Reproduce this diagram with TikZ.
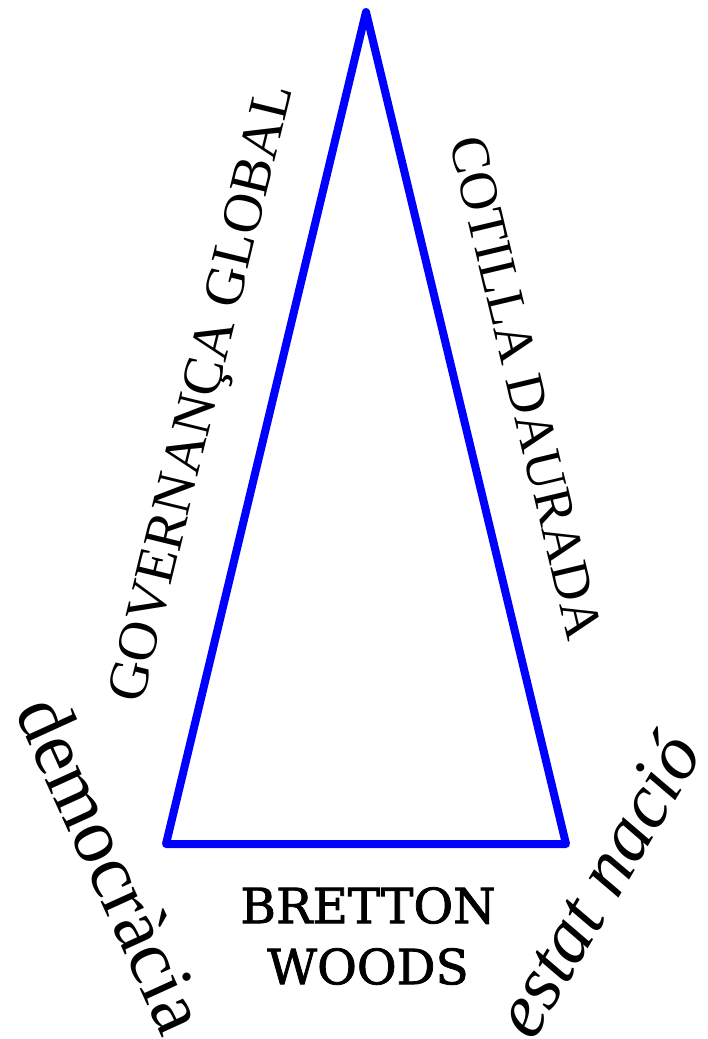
\documentclass[tikz,border=0pt]{standalone}
\usepackage{fontspec}
\setmainfont{Liberation Serif}
\newfontfamily\dvs[FakeBold=1.6]{DejaVu Serif}
\begin{document}
\begin{tikzpicture}[x=1pt,y=-1pt,
  edge/.style={draw=blue, line width=8pt, line join=round, line cap=round},
  lbl/.style={inner sep=0pt, anchor=center}]
\useasboundingbox (0,0) rectangle (707,1039);
\coordinate (top) at (366,12);
\coordinate (bl) at (166,844);
\coordinate (br) at (566,844);
\draw[edge] (top) -- (bl) -- (br) -- cycle;
\node[lbl, rotate=76.3, font=\fontsize{56}{56}\selectfont] (gov) at (205,394) {GOVERNANÇA GLOBAL};
\node[lbl, rotate=-76.6, font=\fontsize{54}{54}\selectfont] (cot) at (526,388) {COTILLA DAURADA};
\node[lbl, rotate=-65.5, font=\fontsize{78}{78}\selectfont] (dem) at (113,864) {democràcia};
\node[lbl, rotate=59.5, font=\fontsize{77}{77}\itshape\selectfont] (est) at (596,884) {estat nació};
\node[lbl, align=center, font=\fontsize{48.5}{61}\dvs\selectfont] (bw) at (368,936) {BRETTON\\WOODS};
\end{tikzpicture}
\end{document}
